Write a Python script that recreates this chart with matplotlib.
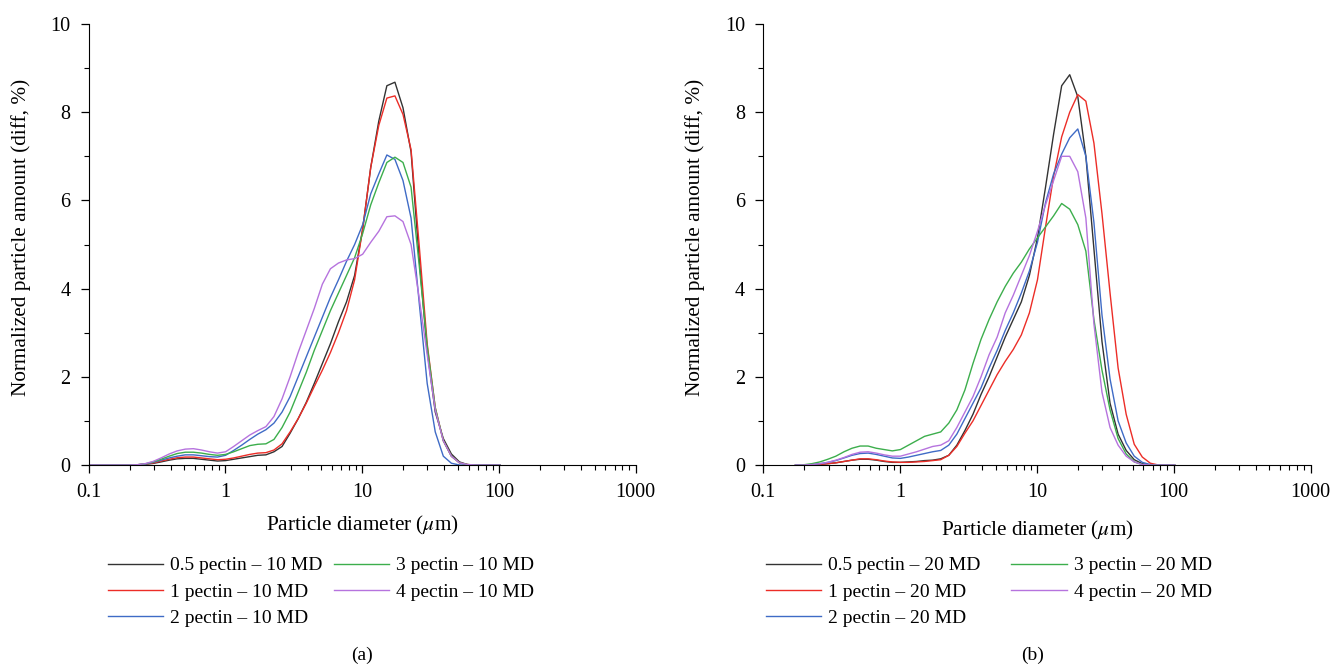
import matplotlib
matplotlib.use("Agg")
import matplotlib.pyplot as plt
from matplotlib.ticker import FixedLocator, FixedFormatter, LogLocator, NullFormatter

plt.rcParams['font.family'] = ['Liberation Serif', 'DejaVu Serif']
plt.rcParams['mathtext.fontset'] = 'stix'

# particle size classes (um)
diameter = [0.100, 0.115, 0.131, 0.150, 0.172, 0.197, 0.226, 0.259, 0.296, 0.339,
            0.389, 0.445, 0.510, 0.584, 0.669, 0.766, 0.877, 1.005, 1.151, 1.318,
            1.510, 1.729, 1.981, 2.269, 2.599, 2.976, 3.409, 3.905, 4.472, 5.122,
            5.867, 6.720, 7.697, 8.816, 10.097, 11.565, 13.246, 15.172, 17.377, 19.904,
            22.797, 26.111, 29.907, 34.255, 39.234, 44.938, 51.471, 58.953, 67.523, 77.339,
            88.583, 101.46]

# (a) 10 MD
a_05 = [0, 0, 0, 0, 0, 0,
        0.005, 0.015, 0.035, 0.07, 0.11, 0.14, 0.15, 0.15, 0.13, 0.11, 0.09,
        0.10, 0.13, 0.16, 0.19, 0.22, 0.23,
        0.30, 0.42, 0.72, 1.05, 1.42, 1.85, 2.30, 2.75, 3.25, 3.70, 4.30, 5.35, 6.75, 7.80, 8.60, 8.68,
        8.10, 7.10, 4.70, 2.60, 1.20, 0.60, 0.25, 0.07, 0.01, 0, 0, 0, 0]
a_1 = [0, 0, 0, 0, 0, 0,
       0.005, 0.02, 0.045, 0.09, 0.13, 0.165, 0.18, 0.18, 0.16, 0.14, 0.12,
       0.13, 0.16, 0.20, 0.24, 0.27, 0.28,
       0.34, 0.48, 0.75, 1.05, 1.40, 1.78, 2.15, 2.55, 3.00, 3.50, 4.20, 5.35, 6.75, 7.70, 8.32, 8.37,
       7.95, 7.15, 5.00, 2.75, 1.30, 0.55, 0.20, 0.05, 0.01, 0, 0, 0, 0]
a_2 = [0, 0, 0, 0, 0, 0,
       0.005, 0.02, 0.06, 0.11, 0.16, 0.20, 0.23, 0.23, 0.21, 0.19, 0.18,
       0.22, 0.33, 0.45, 0.58, 0.70, 0.80,
       0.95, 1.20, 1.55, 2.00, 2.45, 2.90, 3.35, 3.80, 4.20, 4.62, 5.00, 5.45, 6.15, 6.60, 7.03, 6.93,
       6.45, 5.60, 3.70, 1.85, 0.75, 0.20, 0.04, 0, 0, 0, 0, 0, 0]
a_3 = [0, 0, 0, 0, 0, 0,
       0.005, 0.025, 0.07, 0.13, 0.20, 0.26, 0.29, 0.29, 0.27, 0.24, 0.22,
       0.24, 0.30, 0.37, 0.44, 0.47, 0.48,
       0.58, 0.85, 1.20, 1.65, 2.10, 2.60, 3.05, 3.50, 3.90, 4.30, 4.70, 5.25, 5.90, 6.40, 6.86, 6.98,
       6.86, 6.30, 4.55, 2.70, 1.30, 0.55, 0.20, 0.05, 0.01, 0, 0, 0, 0]
a_4 = [0, 0, 0, 0, 0, 0,
       0.005, 0.03, 0.08, 0.16, 0.25, 0.32, 0.36, 0.37, 0.34, 0.30, 0.27,
       0.30, 0.42, 0.55, 0.68, 0.78, 0.87,
       1.10, 1.50, 2.00, 2.55, 3.05, 3.55, 4.10, 4.45, 4.58, 4.65, 4.68, 4.78, 5.05, 5.30, 5.63, 5.65,
       5.52, 5.00, 3.80, 2.50, 1.25, 0.55, 0.20, 0.05, 0.01, 0, 0, 0, 0]

# (b) 20 MD, measured from 0.172 um
diameter_b = diameter[4:]
b_05 = [0, 0, 0.005, 0.015, 0.03, 0.05, 0.08, 0.11, 0.13, 0.13, 0.11, 0.08, 0.06,
        0.06, 0.07, 0.08, 0.10, 0.11, 0.14,
        0.22, 0.45, 0.78, 1.15, 1.60, 2.00, 2.45, 2.90, 3.30, 3.70, 4.30, 5.15, 6.30, 7.50, 8.60, 8.85,
        8.35, 7.00, 4.90, 2.80, 1.40, 0.70, 0.33, 0.12, 0.03, 0, 0, 0, 0]
b_1 = [0, 0, 0.005, 0.015, 0.03, 0.05, 0.08, 0.11, 0.14, 0.14, 0.12, 0.09, 0.07,
       0.06, 0.06, 0.07, 0.08, 0.10, 0.12,
       0.22, 0.42, 0.72, 1.00, 1.35, 1.70, 2.05, 2.35, 2.62, 2.95, 3.45, 4.20, 5.40, 6.55, 7.44, 8.00,
       8.40, 8.25, 7.30, 5.70, 3.90, 2.20, 1.15, 0.47, 0.18, 0.04, 0, 0, 0]
b_2 = [0, 0, 0.01, 0.03, 0.06, 0.10, 0.16, 0.22, 0.26, 0.27, 0.24, 0.20, 0.16,
       0.15, 0.18, 0.22, 0.26, 0.30, 0.33,
       0.45, 0.70, 1.05, 1.40, 1.75, 2.20, 2.60, 3.05, 3.45, 3.90, 4.40, 5.05, 5.95, 6.60, 7.05, 7.42,
       7.62, 7.00, 5.50, 3.40, 1.95, 1.00, 0.50, 0.20, 0.06, 0.01, 0, 0, 0]
b_3 = [0, 0.005, 0.03, 0.07, 0.13, 0.20, 0.30, 0.38, 0.43, 0.43, 0.38, 0.35, 0.32,
       0.35, 0.45, 0.55, 0.65, 0.70, 0.75,
       0.95, 1.25, 1.70, 2.30, 2.85, 3.30, 3.70, 4.05, 4.35, 4.60, 4.90, 5.15, 5.40, 5.65, 5.93, 5.80,
       5.45, 4.85, 3.30, 2.15, 1.25, 0.60, 0.25, 0.07, 0.01, 0, 0, 0, 0]
b_4 = [0, 0, 0.01, 0.03, 0.06, 0.11, 0.17, 0.24, 0.29, 0.30, 0.27, 0.23, 0.20,
       0.20, 0.25, 0.30, 0.36, 0.42, 0.45,
       0.55, 0.85, 1.20, 1.55, 2.00, 2.50, 2.90, 3.45, 3.85, 4.30, 4.75, 5.30, 5.90, 6.45, 7.00, 7.00,
       6.65, 5.60, 3.20, 1.65, 0.85, 0.45, 0.20, 0.07, 0.01, 0, 0, 0, 0]

pectin = ['0.5', '1', '2', '3', '4']
colors = ['#333333', '#ec2d27', '#3f6bc6', '#3cae4c', '#b673de']

TICK_FS = 14.5
LABEL_FS = 15.3
LEG_FS = 14

fig = plt.figure(figsize=(13.33, 6.69), dpi=100)
ax_a = fig.add_axes([88.5 / 1333, 204 / 669, 547.2 / 1333, 441 / 669])
ax_b = fig.add_axes([763.3 / 1333, 204 / 669, 547.2 / 1333, 441 / 669])


def style_axis(ax):
    ax.set_xscale('log')
    ax.set_xlim(0.1, 1000)
    ax.set_ylim(0, 10)
    ax.spines['top'].set_visible(False)
    ax.spines['right'].set_visible(False)
    ax.xaxis.set_major_locator(FixedLocator([0.1, 1, 10, 100, 1000]))
    ax.xaxis.set_major_formatter(FixedFormatter(['0.1', '1', '10', '100', '1000']))
    ax.xaxis.set_minor_locator(LogLocator(base=10, subs=range(2, 10), numticks=20))
    ax.xaxis.set_minor_formatter(NullFormatter())
    ax.yaxis.set_major_locator(FixedLocator([0, 2, 4, 6, 8, 10]))
    ax.yaxis.set_minor_locator(FixedLocator([1, 3, 5, 7, 9]))
    ax.tick_params(which='major', direction='out', length=6, width=0.9,
                   labelsize=TICK_FS, pad=7)
    ax.tick_params(which='minor', direction='out', length=3.5, width=0.8)
    ax.set_ylabel('Normalized particle amount (diff, %)', fontsize=LABEL_FS)
    ax.set_xlabel(r'Particle diameter ($\mu$m)', fontsize=LABEL_FS)


series_a = [a_05, a_1, a_2, a_3, a_4]
series_b = [b_05, b_1, b_2, b_3, b_4]

for p, vals, c in zip(pectin, series_a, colors):
    ax_a.plot(diameter, vals, color=c, lw=1.0, label=f'{p} pectin \u2013 10 MD')
for p, vals, c in zip(pectin, series_b, colors):
    ax_b.plot(diameter_b, vals, color=c, lw=1.0, label=f'{p} pectin \u2013 20 MD')

for ax in (ax_a, ax_b):
    style_axis(ax)

ax_a.yaxis.set_label_coords(-0.105, 0.517)
ax_b.yaxis.set_label_coords(-0.107, 0.517)
ax_a.xaxis.set_label_coords(0.5, -0.111)
ax_b.xaxis.set_label_coords(0.5, -0.122)

leg_kw = dict(ncol=2, frameon=False, fontsize=LEG_FS, handlelength=2.85, handletextpad=0.35,
              labelspacing=0.45, borderpad=0, loc='upper left')
ax_a.legend(bbox_to_anchor=(98 / 1333, 1 - 547 / 669), bbox_transform=fig.transFigure,
            columnspacing=0.6, **leg_kw)
ax_b.legend(bbox_to_anchor=(756 / 1333, 1 - 547 / 669), bbox_transform=fig.transFigure,
            columnspacing=1.6, **leg_kw)

fig.text(362 / 1333, 1 - 655 / 669, '(a)', ha='center', va='center', fontsize=LEG_FS)
fig.text(1033 / 1333, 1 - 655 / 669, '(b)', ha='center', va='center', fontsize=LEG_FS)

fig.savefig('out.png', dpi=100)
